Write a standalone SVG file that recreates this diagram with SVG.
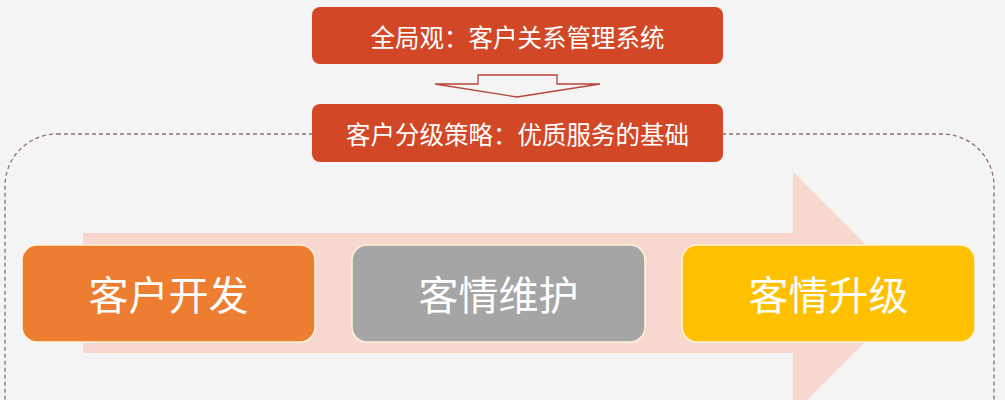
<svg xmlns="http://www.w3.org/2000/svg" width="1005" height="400" viewBox="0 0 1005 400">
<style>
.hdr{fill:#d24726;}
.hdrt{fill:#ffffff;font-family:"Noto Sans CJK SC","Noto Sans",sans-serif;font-size:24.5px;text-anchor:middle;dominant-baseline:central;}
.big{font-family:"Noto Sans CJK SC","Noto Sans",sans-serif;font-size:40px;fill:#ffffff;text-anchor:middle;dominant-baseline:central;}
.box{stroke:#fdf3d8;stroke-width:1.5;}
</style>
<rect x="0" y="0" width="1005" height="400" fill="#f4f4f4"/>
<g id="frame">
<rect x="5" y="134" width="989" height="320" rx="52" ry="52" fill="none" stroke="#8f6f6a" stroke-width="1.3" stroke-dasharray="4,3"/>
</g>
<g id="bigarrow">
<polygon points="83,233 793,233 793,172 914,293 793,414 793,353 83,353" fill="#f8d7cf"/>
</g>
<g id="connectors">
<polygon points="478,75 557,75 557,84 600,84 517,97 435,84 478,84" fill="#f4f4f4" stroke="#b9443a" stroke-width="1.3"/>
</g>
<g id="top">
<rect class="hdr" x="312" y="7" width="411" height="57" rx="8"/>
<text class="hdrt" x="517.5" y="36">全局观：客户关系管理系统</text>
</g>
<g id="strategy">
<rect class="hdr" x="312" y="104" width="411" height="58" rx="8"/>
<text class="hdrt" x="517.5" y="133">客户分级策略：优质服务的基础</text>
</g>
<g id="dev">
<rect class="box" x="22" y="245" width="293" height="97" rx="15" fill="#ed7d31"/>
<text class="big" x="168.5" y="293">客户开发</text>
</g>
<g id="maintain">
<rect class="box" x="352" y="245" width="293" height="97" rx="15" fill="#a5a5a5"/>
<text class="big" x="498.5" y="293">客情维护</text>
</g>
<g id="upgrade">
<rect class="box" x="682" y="245" width="293" height="97" rx="15" fill="#ffc000"/>
<text class="big" x="828.5" y="293">客情升级</text>
</g>
</svg>
